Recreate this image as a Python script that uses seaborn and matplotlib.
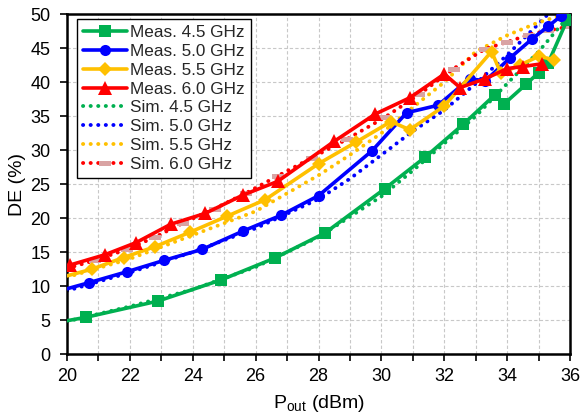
import numpy as np
import pandas as pd
import matplotlib
matplotlib.use("Agg")
import matplotlib.pyplot as plt
import seaborn as sns

meas_45_x = [20.0, 20.6, 22.9, 24.9, 26.6, 28.2, 30.1, 31.4, 32.6, 33.6, 33.9, 34.6, 35.0, 35.3, 35.9]
meas_45_y = [4.9, 5.4, 7.8, 10.9, 14.1, 17.8, 24.3, 29.0, 33.8, 38.1, 36.8, 39.7, 41.4, 42.8, 49.1]

meas_50_x = [20.0, 20.7, 21.9, 23.1, 24.3, 25.6, 26.8, 28.0, 29.7, 30.8, 31.8, 32.8, 33.3, 34.1, 34.8, 35.3, 35.7, 36.1]
meas_50_y = [9.6, 10.5, 12.1, 13.8, 15.4, 18.1, 20.4, 23.3, 29.9, 35.5, 36.6, 40.5, 40.2, 43.6, 46.4, 48.2, 49.7, 51.0]

meas_55_x = [20.0, 20.8, 21.8, 22.8, 23.9, 25.1, 26.3, 28.0, 29.2, 30.3, 30.9, 32.0, 33.5, 33.8, 34.4, 35.0, 35.5]
meas_55_y = [11.5, 12.5, 14.2, 15.8, 17.9, 20.3, 22.7, 28.0, 31.2, 34.2, 33.0, 36.5, 44.5, 41.3, 42.5, 43.8, 43.3]

meas_60_x = [20.1, 21.2, 22.2, 23.3, 24.4, 25.6, 26.7, 28.5, 29.8, 30.9, 32.0, 32.5, 33.3, 34.0, 34.5, 35.1]
meas_60_y = [13.1, 14.6, 16.4, 19.1, 20.7, 23.4, 25.4, 31.3, 35.3, 37.7, 41.2, 39.2, 40.5, 42.0, 42.3, 42.7]

# simulated DE (%)
sim_45_x = [20, 22, 24, 26, 28, 30, 31, 32, 33, 34, 35, 36]
sim_45_y = [4.8, 7.0, 9.5, 12.8, 17.2, 23.2, 27.0, 31.0, 35.0, 39.8, 44.5, 50.0]

sim_50_x = [20, 22, 24, 26, 28, 29, 30, 31, 32, 33, 34, 35, 35.4]
sim_50_y = [9.3, 12.0, 15.0, 18.5, 22.8, 25.8, 29.3, 32.8, 35.9, 39.8, 44.0, 48.6, 50.5]

sim_55_x = [20, 22, 24, 26, 28, 29, 30, 31, 32, 33, 34, 35, 36]
sim_55_y = [11.3, 14.0, 17.5, 21.0, 26.3, 29.3, 32.5, 36.3, 40.0, 44.5, 46.9, 48.8, 50.2]

sim_60_x = [20.0, 20.9, 21.9, 22.8, 23.7, 24.7, 25.7, 26.7, 27.8, 28.9, 30.1, 31.2, 32.3, 33.3, 34.0, 34.7, 35.3, 36.0]
sim_60_y = [12.6, 13.8, 15.4, 17.2, 19.3, 21.4, 23.7, 26.2, 28.9, 31.6, 34.8, 38.2, 42.0, 44.9, 45.9, 47.0, 47.6, 48.2]

labels_meas = ["Meas. 4.5 GHz", "Meas. 5.0 GHz", "Meas. 5.5 GHz", "Meas. 6.0 GHz"]
labels_sim = ["Sim. 4.5 GHz", "Sim. 5.0 GHz", "Sim. 5.5 GHz", "Sim. 6.0 GHz"]
colors = ["#00B050", "#0000FF", "#FFC000", "#FF0000"]
markers = ["s", "o", "D", "^"]
msizes = [9, 8, 7.5, 10]

sns.set_theme(style="ticks")
plt.rcParams["font.family"] = ["Liberation Sans", "DejaVu Sans"]
plt.rcParams["mathtext.fontset"] = "custom"
plt.rcParams["mathtext.rm"] = "Liberation Sans"
plt.rcParams["mathtext.it"] = "Liberation Sans"

fig, ax = plt.subplots(figsize=(5.8, 4.17), dpi=100)
fig.subplots_adjust(left=0.1155, right=0.983, top=0.966, bottom=0.151)

meas = [(meas_45_x, meas_45_y), (meas_50_x, meas_50_y), (meas_55_x, meas_55_y), (meas_60_x, meas_60_y)]
sims = [(sim_45_x, sim_45_y), (sim_50_x, sim_50_y), (sim_55_x, sim_55_y), (sim_60_x, sim_60_y)]

# pale rectangle marker on the 6.0 GHz simulation
rect = [(-1, -0.45), (1, -0.45), (1, 0.45), (-1, 0.45), (-1, -0.45)]

# simulations first so the measured lines sit on top
for i, (x, y) in enumerate(sims):
    df = pd.DataFrame({"x": x, "y": y})
    kw = {}
    if i == 3:
        kw = dict(marker=rect, markersize=8, markerfacecolor="#d9a3a3",
                  markeredgewidth=0, markevery=list(range(1, len(x))))
    sns.lineplot(data=df, x="x", y="y", ax=ax, sort=False, estimator=None,
                 color=colors[i], linewidth=2.8, linestyle=(0, (0.05, 1.9)),
                 dash_capstyle="round", label=labels_sim[i], zorder=2, **kw)

for i, (x, y) in enumerate(meas):
    df = pd.DataFrame({"x": x, "y": y})
    start = 0 if i == 3 else 1
    sns.lineplot(data=df, x="x", y="y", ax=ax, sort=False, estimator=None,
                 color=colors[i], linewidth=2.6, marker=markers[i], markersize=msizes[i],
                 markeredgewidth=0, markevery=list(range(start, len(x))),
                 label=labels_meas[i], zorder=3)

ax.set_xlim(20, 36)
ax.set_ylim(0, 50)
ax.set_xticks(np.arange(20, 37, 2))
ax.set_xticks(np.arange(20, 37, 1), minor=True)
ax.set_yticks(np.arange(0, 51, 5))
ax.grid(True, which="both", color="#c8c8c8", linestyle=(0, (3, 2)), linewidth=0.8)
ax.set_axisbelow(True)

for s in ax.spines.values():
    s.set_color("black")
    s.set_linewidth(1.8)

ax.tick_params(axis="both", which="major", direction="out", length=5, width=1.2,
               color="black", labelsize=13, labelcolor="black")
ax.tick_params(axis="x", which="both", pad=5)
ax.tick_params(axis="y", which="major", pad=7)
ax.tick_params(axis="x", which="minor", direction="out", length=5, width=1.2, color="black")

ax.set_xlabel("P$_{\\mathregular{out}}$ (dBm)", fontsize=14, color="black", labelpad=6)
ax.set_ylabel("DE (%)", fontsize=14, color="black", labelpad=3)

handles, labs = ax.get_legend_handles_labels()
order = [labs.index(l) for l in labels_meas + labels_sim]
leg = ax.legend([handles[k] for k in order], [labs[k] for k in order],
                loc="upper left", bbox_to_anchor=(0.019, 0.985), borderaxespad=0,
                fontsize=12.3, frameon=True, fancybox=False, framealpha=1, edgecolor="black",
                handlelength=2.6, handletextpad=0.2, labelspacing=0.22, borderpad=0.35)
leg.get_frame().set_linewidth(1.0)

fig.savefig("out.png", dpi=100)
